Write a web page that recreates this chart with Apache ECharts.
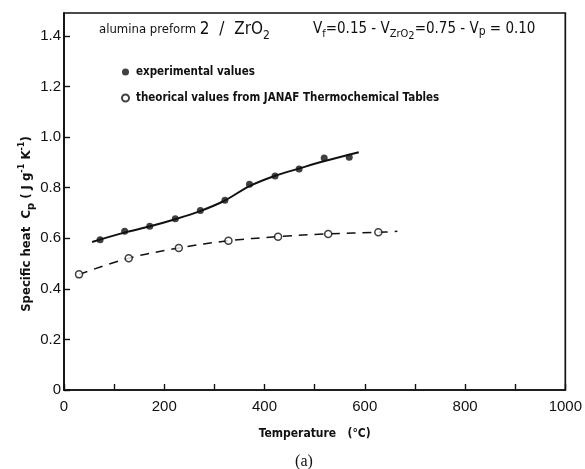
<!DOCTYPE html>
<html><head><meta charset="utf-8">
<script src="https://cdn.jsdelivr.net/npm/echarts@6/dist/echarts.min.js"></script>
<style>html,body{margin:0;padding:0;background:#fff}#c{width:585px;height:469px}</style>
</head><body><div id="c"></div>
<script>
// Experimental values (filled circles)
const expT  = [72, 121, 171, 222, 272, 321, 370, 421, 469, 519, 569];
const expCp = [0.594, 0.627, 0.647, 0.677, 0.709, 0.750, 0.813, 0.846, 0.873, 0.917, 0.920];
// Fitted solid curve through experimental values
const expCurveT  = [56, 120, 170, 220, 270, 320, 370, 420, 470, 520, 588];
const expCurveCp = [0.585, 0.622, 0.646, 0.674, 0.706, 0.748, 0.806, 0.846, 0.876, 0.905, 0.940];
// Theoretical values (open circles, JANAF)
const theoT  = [30, 129, 229, 328, 427, 527, 627];
const theoCp = [0.457, 0.521, 0.561, 0.590, 0.606, 0.617, 0.623];
// Dashed curve through theoretical values
const theoCurveT  = [30, 129, 229, 328, 427, 527, 627, 665];
const theoCurveCp = [0.457, 0.521, 0.561, 0.590, 0.606, 0.617, 0.623, 0.627];
// Axis tick labels
const xLabels = ['0', '200', '400', '600', '800', '1000'];
const yLabels = ['0', '0.2', '0.4', '0.6', '0.8', '1.0', '1.2', '1.4'];

const zip = (a, b) => a.map((v, i) => [v, b[i]]);
const lab = "'DejaVu Sans Condensed', 'DejaVu Sans', sans-serif";
const num = "'Liberation Sans', Arial, sans-serif";

const chart = echarts.init(document.getElementById('c'), null, {renderer: 'canvas'});
chart.setOption({
  animation: false,
  backgroundColor: '#fff',
  grid: {left: 64, right: 18, top: 13, bottom: 79, show: true, borderColor: '#111', borderWidth: 1.7, containLabel: false},
  legend: {
    orient: 'vertical', left: 121, top: 65, itemWidth: 7, itemHeight: 7, itemGap: 12, padding: 0,
    data: ['experimental values', 'theorical values from JANAF Thermochemical Tables'],
    textStyle: {fontFamily: lab, fontWeight: 'bold', fontSize: 11.5, color: '#111', lineHeight: 14, padding: [0, 0, 0, 2]},
    selectedMode: false
  },
  xAxis: {
    type: 'value', min: 0, max: 1000, interval: 100,
    name: 'Temperature   (\u00b0C)', nameLocation: 'middle', nameGap: 38,
    nameTextStyle: {fontFamily: lab, fontWeight: 'bold', fontSize: 12, color: '#111'},
    axisLine: {show: true, lineStyle: {color: '#111', width: 1.7}},
    axisTick: {show: true, inside: true, length: 6, lineStyle: {color: '#111', width: 1.4}},
    splitLine: {show: false},
    axisLabel: {
      margin: 9, fontFamily: num, fontSize: 15, color: '#111',
      formatter: v => (v % 200 === 0 ? xLabels[v / 200] : '')
    }
  },
  yAxis: {
    type: 'value', min: 0, max: 1.49, interval: 0.2,
    axisLine: {show: true, lineStyle: {color: '#111', width: 1.7}},
    axisTick: {show: true, inside: true, length: 6, lineStyle: {color: '#111', width: 1.4}},
    splitLine: {show: false},
    axisLabel: {
      margin: 3, fontFamily: num, fontSize: 15, color: '#111', showMaxLabel: false,
      formatter: v => { const i = Math.round(v / 0.2); return Math.abs(v - i * 0.2) < 1e-6 ? yLabels[i] : ''; }
    }
  },
  series: [
    {name: 'expCurve', type: 'line', data: zip(expCurveT, expCurveCp), smooth: 0.35, showSymbol: false, symbol: 'none',
     lineStyle: {color: '#111', width: 2}, z: 2, silent: true},
    {name: 'theoCurve', type: 'line', data: zip(theoCurveT, theoCurveCp), smooth: 0.35, showSymbol: false, symbol: 'none',
     lineStyle: {color: '#111', width: 1.5, type: [9, 7]}, z: 2, silent: true},
    {name: 'experimental values', type: 'scatter', data: zip(expT, expCp), symbol: 'circle', symbolSize: 7,
     itemStyle: {color: '#111'}, z: 3},
    {name: 'theorical values from JANAF Thermochemical Tables', type: 'scatter', data: zip(theoT, theoCp), symbol: 'circle', symbolSize: 7,
     itemStyle: {color: '#fff', borderColor: '#111', borderWidth: 1.5}, z: 3}
  ],
  graphic: [
    {type: 'text', left: 99, top: 21, z: 10, style: {
      text: '{a|alumina preform }{b|2  /  ZrO}{c|2}',
      rich: {
        a: {fontFamily: lab, fontSize: 13, fill: '#111', color: '#111', lineHeight: 24, verticalAlign: 'middle'},
        b: {fontFamily: lab, fontSize: 17, fill: '#111', color: '#111', lineHeight: 24, verticalAlign: 'middle'},
        c: {fontFamily: lab, fontSize: 12, fill: '#111', color: '#111', lineHeight: 24, verticalAlign: 'bottom'}
      }
    }},
    {type: 'text', left: 313, top: 22, z: 10, style: {
      text: '{n|V}{s|f}{n|=0.15 - V}{s|ZrO}{t|2}{n|=0.75 - V}{p|p}{n| = 0.10}',
      rich: {
        n: {fontFamily: lab, fontSize: 15, fill: '#111', color: '#111', lineHeight: 24, verticalAlign: 'middle'},
        s: {fontFamily: lab, fontSize: 11, fill: '#111', color: '#111', lineHeight: 24, verticalAlign: 'bottom', padding: [0, 0, 2, 0]},
        t: {fontFamily: lab, fontSize: 11, fill: '#111', color: '#111', lineHeight: 24, verticalAlign: 'bottom'},
        p: {fontFamily: lab, fontSize: 12, fill: '#111', color: '#111', lineHeight: 24, verticalAlign: 'bottom', padding: [0, 0, 4, 0]}
      }
    }},
    {type: 'text', x: 27, y: 224, rotation: Math.PI / 2, z: 10, style: {
      text: '{t|Specific heat  C}{s|p}{t| ( J g}{u|-1}{t| K}{u|-1}{t|)}',
      align: 'center', verticalAlign: 'middle',
      rich: {
        t: {fontFamily: lab, fontWeight: 'bold', fontSize: 13, fill: '#111', color: '#111', lineHeight: 20, verticalAlign: 'middle'},
        s: {fontFamily: lab, fontWeight: 'bold', fontSize: 11, fill: '#111', color: '#111', lineHeight: 20, verticalAlign: 'bottom'},
        u: {fontFamily: lab, fontWeight: 'bold', fontSize: 9, fill: '#111', color: '#111', lineHeight: 20, verticalAlign: 'top'}
      }
    }},
    {type: 'text', x: 304, y: 462, z: 10, style: {
      text: '(a)', align: 'center', verticalAlign: 'middle',
      fontFamily: "'Liberation Serif', 'DejaVu Serif', serif", fontSize: 16, fill: '#111'
    }}
  ]
});
</script>
</body></html>
